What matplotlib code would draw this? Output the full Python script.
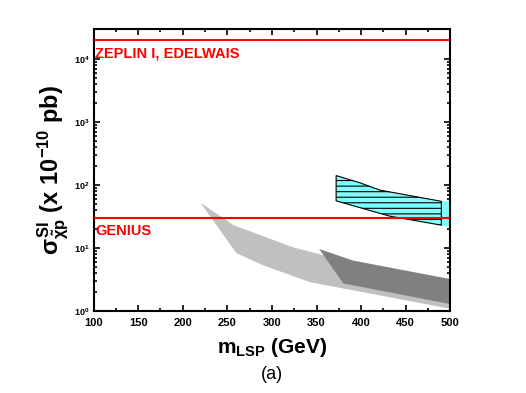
import matplotlib
matplotlib.use('Agg')
import matplotlib.pyplot as plt
import matplotlib.ticker as mticker
import numpy as np

plt.rcParams['font.family'] = 'Liberation Sans'
plt.rcParams['font.weight'] = 'bold'
plt.rcParams['mathtext.fontset'] = 'custom'
plt.rcParams['mathtext.rm'] = 'Liberation Sans:bold'
plt.rcParams['mathtext.it'] = 'Liberation Sans:bold'
plt.rcParams['mathtext.bf'] = 'Liberation Sans:bold'
plt.rcParams['hatch.linewidth'] = 0.8

# experimental limits (x 10^-10 pb)
zeplin_limit = 2.0e4
genius_limit = 30.0

# cyan hatched region
cyan_x_top = [372, 399, 421, 490]
cyan_y_top = [141, 108, 83, 55]
cyan_x_bot = [372, 432, 490]
cyan_y_bot = [56, 32, 23]
cyan_ext_x = [490, 500]
cyan_ext_top = [56, 56]
cyan_ext_bot = [22, 22]

# light gray region
light_x_top = [220, 257, 324, 360, 420, 500]
light_y_top = [52, 23, 10.2, 7.5, 4.5, 2.5]
light_x_bot = [220, 260, 290, 343, 500]
light_y_bot = [52, 8.3, 5.3, 2.85, 1.08]

# dark gray region
dark_x_top = [353, 391, 500]
dark_y_top = [9.6, 6.3, 3.2]
dark_x_bot = [353, 380, 500]
dark_y_bot = [9.6, 2.73, 1.28]

fig = plt.figure(figsize=(5.26, 3.93), dpi=100)
ax = fig.add_axes([0.178, 0.209, 0.678, 0.717])

def poly(xt, yt, xb, yb):
    return list(xt) + list(xb[::-1]), list(yt) + list(yb[::-1])

px, py = poly(light_x_top, light_y_top, light_x_bot, light_y_bot)
ax.fill(px, py, color='#c0c0c0', lw=0, zorder=1)
px, py = poly(dark_x_top, dark_y_top, dark_x_bot, dark_y_bot)
ax.fill(px, py, color='#808080', lw=0, zorder=2)

px, py = poly(cyan_ext_x, cyan_ext_top, cyan_ext_x, cyan_ext_bot)
ax.fill(px, py, color='#80ffff', lw=0, zorder=2)
px, py = poly(cyan_x_top, cyan_y_top, cyan_x_bot, cyan_y_bot)
ax.fill(px, py, facecolor='#80ffff', edgecolor='black', lw=0.8, hatch='---', zorder=3)

ax.axhline(zeplin_limit, color='red', lw=1.5, zorder=4)
ax.axhline(genius_limit, color='red', lw=1.5, zorder=4)
ax.text(102, zeplin_limit * 0.8, 'ZEPLIN I, EDELWAIS', color='red', fontsize=10.5,
        fontweight='bold', va='top', ha='left')
ax.text(102, genius_limit * 0.8, 'GENIUS', color='red', fontsize=10.5,
        fontweight='bold', va='top', ha='left')

ax.set_yscale('log')
ax.set_xlim(100, 500)
ax.set_ylim(1, 3e4)
ax.xaxis.set_major_locator(mticker.MultipleLocator(50))
ax.xaxis.set_minor_locator(mticker.MultipleLocator(25))
ax.yaxis.set_major_locator(mticker.LogLocator(base=10, numticks=10))
ax.yaxis.set_minor_locator(mticker.LogLocator(base=10, subs=np.arange(2, 10), numticks=20))
ax.yaxis.set_minor_formatter(mticker.NullFormatter())
ax.yaxis.set_major_formatter(mticker.FuncFormatter(lambda v, p: r'$10^{%d}$' % round(np.log10(v))))

ax.tick_params(which='both', direction='in', top=True, right=True, width=1.2)
ax.tick_params(which='major', length=4)
ax.tick_params(which='minor', length=2.5)
ax.tick_params(axis='x', labelsize=8, pad=5)
ax.tick_params(axis='y', labelsize=6.5, pad=3)
for lab in ax.get_xticklabels():
    lab.set_fontweight('bold')
for s in ax.spines.values():
    s.set_linewidth(1.5)

ax.set_xlabel(r'm$_{\mathregular{LSP}}$ (GeV)', fontsize=15, fontweight='bold', labelpad=6)
ax.set_ylabel(r'$\sigma^{\mathregular{SI}}_{\tilde{\chi}p}$ (x 10$^{-10}$ pb)', fontsize=17,
              fontweight='bold', labelpad=2)
fig.text(0.517, 0.035, '(a)', fontsize=13, fontweight='normal', ha='center')

fig.savefig('out.png', dpi=100)
